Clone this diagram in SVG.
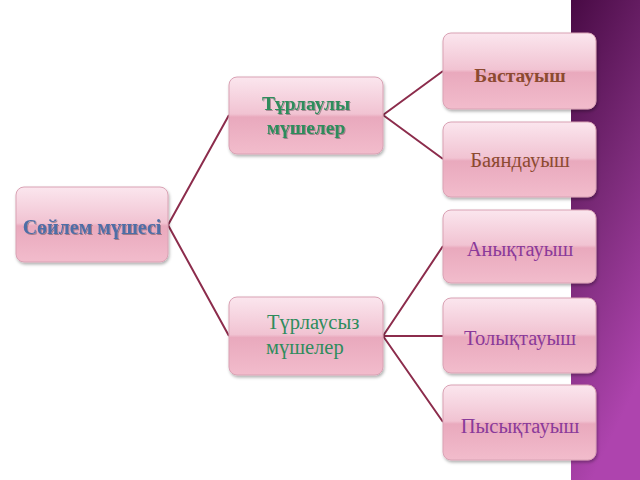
<svg xmlns="http://www.w3.org/2000/svg" width="640" height="480" viewBox="0 0 640 480">
<defs>
<linearGradient id="stripe" x1="0" y1="0" x2="0.3" y2="1">
<stop offset="0" stop-color="#480a44"/>
<stop offset="0.5" stop-color="#7a2a78"/>
<stop offset="1" stop-color="#ae44ae"/>
</linearGradient>
<linearGradient id="box" x1="0" y1="0" x2="0" y2="1">
<stop offset="0" stop-color="#fbe6ee"/>
<stop offset="0.48" stop-color="#f1c3d2"/>
<stop offset="0.52" stop-color="#e9a9bd"/>
<stop offset="1" stop-color="#f2bccc"/>
</linearGradient>
<filter id="sh" x="-10%" y="-10%" width="125%" height="130%">
<feDropShadow dx="1" dy="2" stdDeviation="1.5" flood-color="#000" flood-opacity="0.3"/>
</filter>
<filter id="tsh" x="-5%" y="-20%" width="110%" height="150%">
<feDropShadow dx="1" dy="1" stdDeviation="0.6" flood-color="#000" flood-opacity="0.3"/>
</filter>
</defs>
<style>
.b{fill:url(#box);stroke:#d9a2b4;stroke-width:1;filter:url(#sh)}
.t{font-family:"Liberation Serif","Times New Roman",serif;font-size:20.5px;text-anchor:middle}
.k{font-weight:bold;font-size:19.5px}
.c{fill:none;stroke:#8c2c4c;stroke-width:2}
</style>
<rect x="0" y="0" width="640" height="480" fill="#ffffff"/>
<rect x="571" y="0" width="69" height="480" fill="url(#stripe)"/>
<g id="connectors">
<path class="c" d="M168 225 L229 115 M168 225 L229 336"/>
<path class="c" d="M383 115 L443 71 M383 115 L443 159"/>
<path class="c" d="M383 336 L443 246 M383 336 L443 336 M383 336 L443 422"/>
</g>
<g id="root">
<rect class="b" x="16" y="187" width="152" height="75" rx="8"/>
<text class="t k" x="92" y="234" fill="#4e6ea6" filter="url(#tsh)" style="font-size:20px">Сөйлем мүшесі</text>
</g>
<g id="turlauly">
<rect class="b" x="229" y="77" width="154" height="77" rx="8"/>
<text class="t k" x="306" y="110" fill="#2e8c5c" filter="url(#tsh)">Тұрлаулы</text>
<text class="t k" x="306" y="134" fill="#2e8c5c" filter="url(#tsh)">мүшелер</text>
</g>
<g id="turlausyz">
<rect class="b" x="229" y="297" width="154" height="78" rx="8"/>
<text class="t" x="267" y="329" fill="#2e8c5c" style="text-anchor:start">Түрлаусыз</text>
<text class="t" x="266" y="354" fill="#2e8c5c" style="text-anchor:start">мүшелер</text>
</g>
<g id="bastauysh">
<rect class="b" x="443" y="33" width="153" height="76" rx="8"/>
<text class="t k" x="520" y="82" fill="#8c4a30">Бастауыш</text>
</g>
<g id="bayandauysh">
<rect class="b" x="443" y="122" width="153" height="75" rx="8"/>
<text class="t" x="520" y="167" fill="#8c4a30">Баяндауыш</text>
</g>
<g id="anyktauysh">
<rect class="b" x="443" y="210" width="153" height="73" rx="8"/>
<text class="t" x="520" y="256" fill="#8a3a9a">Анықтауыш</text>
</g>
<g id="tolyktauysh">
<rect class="b" x="443" y="298" width="153" height="75" rx="8"/>
<text class="t" x="520" y="345" fill="#8a3a9a">Толықтауыш</text>
</g>
<g id="pysyktauysh">
<rect class="b" x="443" y="385" width="153" height="75" rx="8"/>
<text class="t" x="520" y="433" fill="#8a3a9a">Пысықтауыш</text>
</g>
</svg>
